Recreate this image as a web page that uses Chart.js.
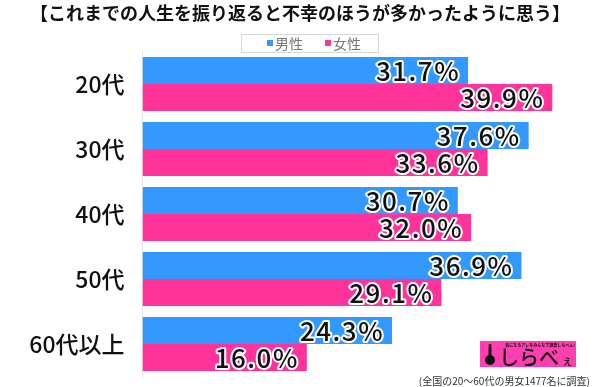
<!DOCTYPE html>
<html>
<head>
<meta charset="utf-8">
<script src="https://cdn.jsdelivr.net/npm/chart.js@4.4.0/dist/chart.umd.min.js"></script>
<style>
  body { margin: 0; background: #fff; }
  #wrap { width: 600px; height: 387px; }
</style>
</head>
<body>
<div id="wrap"><canvas id="chart"></canvas></div>
<script>
const categories = ['20代', '30代', '40代', '50代', '60代以上'];
const seriesNames = ['男性', '女性'];
const maleValues = [31.7, 37.6, 30.7, 36.9, 24.3];
const femaleValues = [39.9, 33.6, 32.0, 29.1, 16.0];

const title = '【これまでの人生を振り返ると不幸のほうが多かったように思う】';
const note = '(全国の20～60代の男女1477名に調査)';
const JP = '"Noto Sans CJK JP", "Noto Sans", sans-serif';

// title, boxed legend, logo and footnote
const decor = {
  id: 'decor',
  afterDraw(chart) {
    const ctx = chart.ctx;
    ctx.save();
    ctx.fillStyle = '#111';
    ctx.font = 'bold 18px ' + JP;
    ctx.textAlign = 'center';
    ctx.textBaseline = 'middle';
    ctx.fillText(title, 300, 13);

    // legend
    ctx.strokeStyle = '#d8d8d8';
    ctx.lineWidth = 1;
    ctx.strokeRect(241.5, 34.5, 137, 18);
    ctx.font = '14px ' + JP;
    ctx.textAlign = 'left';
    const xs = [267, 325];
    chart.data.datasets.forEach((ds, i) => {
      ctx.fillStyle = ds.backgroundColor;
      ctx.fillRect(xs[i], 40, 6, 6);
      ctx.fillStyle = '#777';
      ctx.fillText(ds.label, xs[i] + 8, 43.5);
    });

    // logo
    ctx.fillStyle = '#ff3fb0';
    ctx.fillRect(480, 341, 96, 26);
    ctx.fillStyle = '#111';
    ctx.font = 'bold 4px ' + JP;
    ctx.textAlign = 'center';
    ctx.fillText('気になるアレをみんなで調査しらべぇ!', 540, 345);
    ctx.beginPath();
    ctx.arc(490, 360, 5, 0, Math.PI * 2);
    ctx.fill();
    ctx.fillRect(488.5, 347, 3, 8);
    ctx.beginPath();
    ctx.arc(490, 345.5, 1.5, 0, Math.PI * 2);
    ctx.fill();
    ctx.font = '500 20px ' + JP;
    ctx.textAlign = 'left';
    ctx.fillText('しらべ', 499, 357);
    ctx.font = '500 11px ' + JP;
    ctx.fillText('ぇ', 562, 361);

    // footnote
    ctx.fillStyle = '#333';
    ctx.font = '10px ' + JP;
    ctx.textAlign = 'right';
    ctx.fillText(note, 590, 381);
    ctx.restore();
  }
};

// value labels inside bar ends
const valueLabels = {
  id: 'valueLabels',
  afterDatasetsDraw(chart) {
    const ctx = chart.ctx;
    ctx.save();
    ctx.font = '500 26px ' + JP;
    ctx.letterSpacing = '1.5px';
    ctx.textAlign = 'right';
    ctx.textBaseline = 'middle';
    ctx.lineJoin = 'round';
    chart.data.datasets.forEach((ds, i) => {
      chart.getDatasetMeta(i).data.forEach((bar, j) => {
        const txt = ds.data[j].toFixed(1) + '%';
        ctx.strokeStyle = '#fff';
        ctx.lineWidth = 4;
        ctx.strokeText(txt, bar.x - 8, bar.y + 1);
        ctx.fillStyle = '#111';
        ctx.fillText(txt, bar.x - 8, bar.y + 1);
      });
    });
    ctx.restore();
  }
};

new Chart(document.getElementById('chart'), {
  type: 'bar',
  data: {
    labels: categories,
    datasets: [
      { label: seriesNames[0], data: maleValues, backgroundColor: '#3399ff' },
      { label: seriesNames[1], data: femaleValues, backgroundColor: '#ff3399' }
    ]
  },
  options: {
    indexAxis: 'y',
    responsive: true,
    maintainAspectRatio: false,
    animation: false,
    events: [],
    layout: { padding: { top: 51.5, bottom: 10.5, left: 0, right: 5.6 } },
    datasets: { bar: { categoryPercentage: 0.83, barPercentage: 1 } },
    plugins: { legend: { display: false }, title: { display: false }, tooltip: { enabled: false } },
    scales: {
      x: { display: false, min: 0, max: 44 },
      y: {
        afterFit(scale) { scale.width = 142.5; scale.paddingTop = 0; scale.paddingBottom = 0; },
        grid: { display: true, drawOnChartArea: false, drawTicks: false },
        border: { display: true, color: '#e2e2e2', width: 1 },
        ticks: { color: '#111', padding: 18, font: { family: JP, size: 23, weight: '500' } }
      }
    }
  },
  plugins: [valueLabels, decor]
});
</script>
</body>
</html>
